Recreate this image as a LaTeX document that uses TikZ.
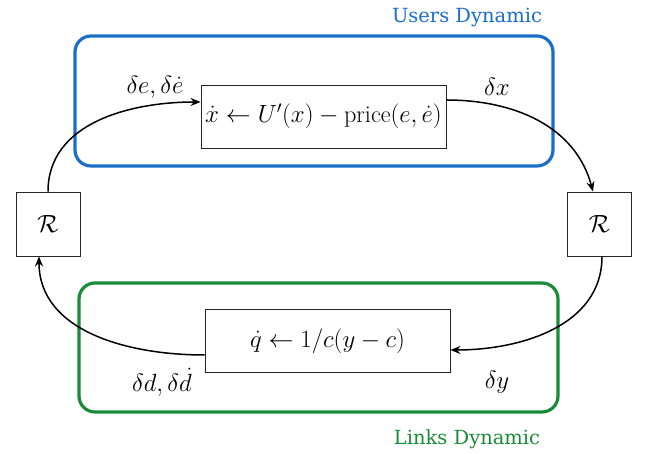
\documentclass[tikz,border=0pt]{standalone}
\usepackage{fontspec}
\newfontfamily\labelfont{DejaVu Serif}
\usetikzlibrary{arrows.meta,decorations.pathmorphing}
\definecolor{usersblue}{RGB}{25,110,200}
\definecolor{linksgreen}{RGB}{25,140,55}

\begin{document}
\begin{tikzpicture}[x=1pt,y=1pt,
  block/.style={draw=black!85, line width=0.9pt, fill=white,
    minimum width=245pt, minimum height=63pt, inner sep=0pt,
    font=\fontsize{24.2}{29}\selectfont},
  rbox/.style={draw=black!85, line width=0.9pt, fill=white,
    minimum width=64pt, minimum height=64pt, inner sep=0pt,
    font=\fontsize{24.2}{29}\selectfont},
  sig/.style={font=\fontsize{23.5}{28}\selectfont, inner sep=0pt},
  flow/.style={-{Stealth[length=10pt,width=8pt]}, line width=1.5pt},
  region/.style={line width=3.2pt, rounded corners=16pt},
  regionlabel/.style={font=\labelfont\fontsize{19.5}{23}\selectfont, inner sep=0pt}
]
\useasboundingbox (0,0) rectangle (649,454);

% dynamic regions
\draw[region, draw=usersblue] (75,418) rectangle (553,288);
\draw[region, draw=linksgreen] (79,171) rectangle (558,42);
\node[regionlabel, text=usersblue, anchor=base] (ulabel) at (467,431) {Users Dynamic};
\node[regionlabel, text=linksgreen, anchor=base] (llabel) at (467,9) {Links Dynamic};

% blocks
\node[block] (top) at (323.5,337.5) {$\dot x \leftarrow U'(x) - \mathrm{price}(e,\dot e)$};
\node[block] (bot) at (327.5,113) {$\dot q \leftarrow 1/c(y-c)$};
\node[rbox] (rl) at (48,230) {$\mathcal{R}$};
\node[rbox] (rr) at (599.5,230) {$\mathcal{R}$};

% signal labels
\node[sig] (lde) at (155,367) {$\delta e, \delta\dot e$};
\node[sig] (ldx) at (497,367) {$\delta x$};
\node[sig] (ldd) at (162,72) {$\delta d, \delta\dot d$};
\node[sig] (ldy) at (497,72) {$\delta y$};

% feedback loop
\draw[flow] (rl.north) to[out=90,in=180] ([yshift=14.5pt]top.west);
\draw[flow] ([yshift=16.5pt]top.east) to[out=0,in=105] ([xshift=-6.5pt]rr.north);
\draw[flow] ([xshift=2.5pt]rr.south) to[out=-90,in=0] ([yshift=-9pt]bot.east);
\draw[flow] ([yshift=-14pt]bot.west) to[out=180,in=-90] ([xshift=-9pt]rl.south);
\end{tikzpicture}
\end{document}
